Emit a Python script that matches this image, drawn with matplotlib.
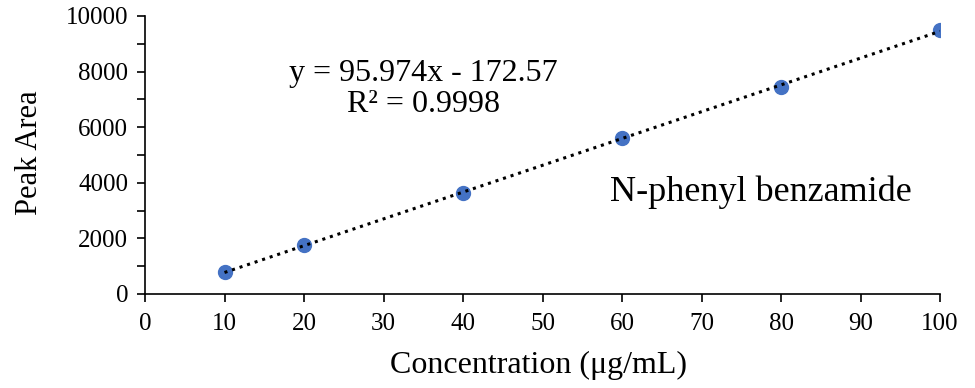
import numpy as np
import matplotlib.pyplot as plt

plt.rcParams['font.family'] = ['Liberation Serif', 'DejaVu Serif']

conc = np.array([10, 20, 40, 60, 80, 100])
area = np.array([790, 1760, 3630, 5600, 7450, 9510])
eq_text = 'y = 95.974x - 172.57\nR² = 0.9998'
name = 'N-phenyl benzamide'

fig = plt.figure(figsize=(9.75, 3.88), dpi=100)
ax = fig.add_axes([145 / 975, 94 / 388, 795 / 975, 278 / 388])

# linear trendline
k, b0 = np.polyfit(conc, area, 1)
xs = np.array([conc.min(), conc.max()])
ax.plot(xs, k * xs + b0, color='black', linestyle=(0, (1, 1.6)), linewidth=2.2, zorder=3)
ax.plot(conc, area, 'o', color='#4472C4', markersize=10, zorder=2)

ax.set_xlim(0, 100)
ax.set_ylim(0, 10000)
ax.set_xticks(np.arange(0, 101, 10))
ax.set_yticks(np.arange(0, 10001, 2000))
ax.set_yticks(np.arange(0, 10001, 1000), minor=True)
ax.tick_params(axis='both', which='both', direction='out', labelsize=18, width=1.2, length=6)
ax.tick_params(axis='x', pad=8)
ax.tick_params(axis='y', pad=6)
ax.spines['top'].set_visible(False)
ax.spines['right'].set_visible(False)
ax.spines['left'].set_linewidth(1.2)
ax.spines['bottom'].set_linewidth(1.2)

ax.set_xlabel('Concentration (μg/mL)', fontsize=23)
ax.set_ylabel('Peak Area', fontsize=22)
ax.xaxis.set_label_coords(0.495, -0.205)
ax.yaxis.set_label_coords(-0.127, 0.51)

ax.text(35.0, 7380, eq_text, fontsize=23, ha='center', va='center', linespacing=1.1)
ax.text(77.5, 3650, name, fontsize=26, ha='center', va='center')

fig.savefig('out.png', dpi=100)
